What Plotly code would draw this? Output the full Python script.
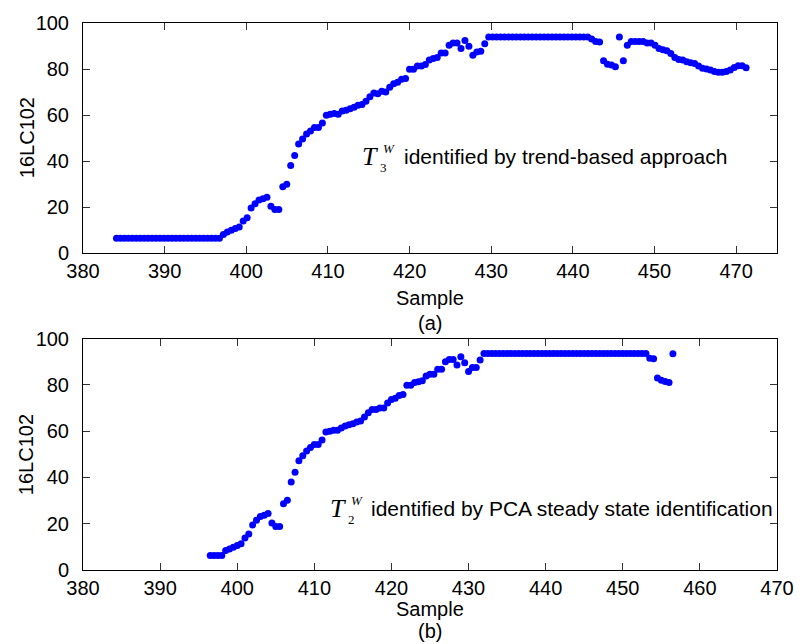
import numpy as np
import plotly.graph_objects as go

# ---- data: 16LC102 level readings ----
# (a) window found by the trend-based approach
top_start, top_step = 384.1, 0.485
top_level = (
    [6.4] * 27
    + [8.1, 9.1, 9.9, 10.7, 11.3, 13.9, 15.3, 19.6, 21.4, 23.1, 23.6, 24.3, 20.3,
       18.9, 18.9, 28.8, 29.9, 38.1, 42.4, 47.4, 49.6, 51.7, 53.1, 54.6, 54.6, 56.5, 59.9]
    + [60.3, 60.7, 60.3, 61.7, 62.1, 62.7, 63.4, 64.2, 64.6, 66.0, 67.9, 69.6, 69.3,
       70.3, 70.0, 72.1, 73.6, 74.2, 75.6, 75.9, 79.9, 79.9, 81.3, 81.3, 82.0, 83.9,
       84.6, 85.0, 87.0, 87.0, 90.3, 91.3, 91.3, 88.9, 92.4, 89.9, 86.0, 87.4, 87.7,
       91.0, 93.9]
    + [93.9] * 25
    + [93.0, 92.0, 91.7, 83.6, 82.1, 81.7, 81.0, 93.9, 83.6, 90.3]
    + [92.0, 92.0, 92.0, 92.0, 91.3, 91.3, 90.3, 88.9, 88.4, 87.9, 86.7, 85.0, 84.1,
       83.9, 83.2, 82.7, 82.4, 81.3, 80.3, 80.0, 79.6, 78.9, 78.6, 78.6, 78.9, 79.6,
       80.7, 81.4, 81.4, 80.6]
)
top_sample = top_start + top_step * np.arange(len(top_level))

# (b) window found by PCA steady state identification
bot_start, bot_step = 396.5, 0.5
bot_level = (
    [6.3] * 4
    + [8.4, 9.1, 9.8, 10.6, 11.3, 13.8, 15.6, 19.5, 21.5, 23.1, 23.7, 24.4, 20.3,
       18.8, 18.8, 28.6, 30.1, 38.0, 42.3, 47.2, 49.4, 51.4, 52.9, 54.3, 54.3, 56.2, 59.7]
    + [60.0, 60.4, 60.4, 61.4, 62.3, 62.8, 63.2, 64.0, 64.4, 66.1, 68.0, 69.4, 69.4,
       70.0, 70.0, 72.2, 73.7, 74.2, 75.4, 75.9, 79.9, 79.9, 81.1, 81.4, 81.8, 83.9,
       84.6, 84.6, 86.8, 86.8, 90.0, 91.0, 91.0, 88.6, 92.2, 89.6, 85.8, 87.5, 87.5,
       90.8, 93.6]
    + [93.6] * 42
    + [91.5, 91.3, 83.0, 82.0, 81.5, 81.0, 93.5]
)
bot_sample = bot_start + bot_step * np.arange(len(bot_level))

top_ticks = [380, 390, 400, 410, 420, 430, 440, 450, 460]
top_ticktext = ["380", "390", "400", "410", "420", "430", "440", "450", "470"]
bot_ticks = [380, 390, 400, 410, 420, 430, 440, 450, 460, 470]
y_ticks = [0, 20, 40, 60, 80, 100]

# ---- figure ----
W, H = 806, 644
L, R, T, B = 83, 21, 16, 74
PW, PH = W - L - R, H - T - B

def px(xp):
    return (xp - L) / PW

def py(yp):
    return (H - B - yp) / PH

SANS = "Liberation Sans, Arial, sans-serif"
SERIF = "Liberation Serif, Times New Roman, serif"
marker = dict(color="#0000ff", size=7, line=dict(width=0))

fig = go.Figure()
fig.add_trace(go.Scatter(x=top_sample, y=top_level, mode="markers", marker=marker,
                         xaxis="x", yaxis="y", showlegend=False))
fig.add_trace(go.Scatter(x=bot_sample, y=bot_level, mode="markers", marker=marker,
                         xaxis="x2", yaxis="y2", showlegend=False))

axis_common = dict(showline=True, linecolor="black", linewidth=1, mirror="ticks",
                   ticks="inside", ticklen=7, tickcolor="#333333", tickwidth=1,
                   showgrid=False, zeroline=False,
                   tickfont=dict(family=SANS, size=20, color="black"))

top_dom = [py(249), 1.0]
bot_dom = [0.0, py(335.7)]

fig.update_layout(
    width=W, height=H,
    margin=dict(l=L, r=R, t=T, b=B),
    paper_bgcolor="white", plot_bgcolor="white",
    xaxis=dict(range=[380, 465], tickvals=top_ticks, ticktext=top_ticktext,
               anchor="y", domain=[0, 1], **axis_common),
    yaxis=dict(range=[0, 100], tickvals=y_ticks, anchor="x", domain=top_dom,
               ticklabelstandoff=9, **axis_common),
    xaxis2=dict(range=[380, 470], tickvals=bot_ticks, anchor="y2", domain=[0, 1],
                **axis_common),
    yaxis2=dict(range=[0, 100], tickvals=y_ticks, anchor="x2", domain=bot_dom,
                ticklabelstandoff=9, **axis_common),
)

def label(text, x, y, size=20, family=SANS, angle=0, xanchor="center"):
    fig.add_annotation(text=text, x=px(x), y=py(y), xref="paper", yref="paper",
                       showarrow=False, textangle=angle, xanchor=xanchor,
                       yanchor="middle", borderpad=0,
                       font=dict(family=family, size=size, color="black"))

# axis titles and panel captions
label("16LC102", 26, 132, angle=-90)
label("16LC102", 26, 453, angle=-90)
label("Sample", 434, 295)
label("(a)", 434, 320)
label("Sample", 434, 609)
label("(b)", 434, 632)

# window symbols T_k^W: italic T, index below right, W above right
def window_symbol(k, x, y):
    label("<i>T</i>", x, y, size=26, family=SERIF, xanchor="right")
    label(k, x, y + 11, size=13, family=SERIF, xanchor="left")
    label("<i>W</i>", x + 3, y - 8, size=13, family=SERIF, xanchor="left")

window_symbol("3", 382, 151)
label("identified by trend-based approach", 407, 151, size=21, xanchor="left")

window_symbol("2", 350, 508)
label("identified by PCA steady state identification", 373, 508, size=21,
      xanchor="left")

fig.write_html("out.html")
